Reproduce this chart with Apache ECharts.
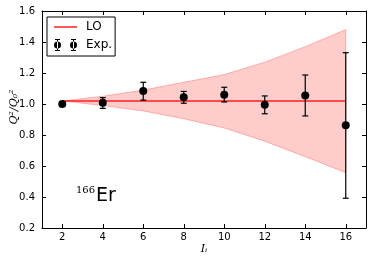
<!DOCTYPE html>
<html>
<head>
<meta charset="utf-8">
<script src="https://cdn.jsdelivr.net/npm/echarts@6/dist/echarts.min.js"></script>
<style>html,body{margin:0;padding:0;background:#fff}#c{width:374px;height:263px}</style>
</head>
<body>
<div id="c"></div>
<script>
// ---- data ----
const xTicks = [2, 4, 6, 8, 10, 12, 14, 16];
const yTicks = [0.2, 0.4, 0.6, 0.8, 1.0, 1.2, 1.4, 1.6];
const loI = [2, 16];
const loVal = [1.02, 1.02];
const bandI = [2, 4, 6, 8, 10, 12, 14, 16];
const bandUpper = [1.02, 1.05, 1.09, 1.14, 1.19, 1.27, 1.37, 1.48];
const bandLower = [1.02, 0.99, 0.955, 0.905, 0.845, 0.76, 0.66, 0.557];
const expI = [2, 4, 6, 8, 10, 12, 14, 16];
const expVal = [1.00, 1.008, 1.084, 1.043, 1.06, 0.995, 1.055, 0.863];
const expLow = [0.985, 0.972, 1.025, 1.005, 1.013, 0.937, 0.923, 0.392];
const expHigh = [1.015, 1.041, 1.14, 1.081, 1.108, 1.052, 1.187, 1.331];

const chart = echarts.init(document.getElementById('c'), null, {renderer: 'canvas'});
const sans = 'DejaVu Sans';
const serif = 'DejaVu Serif';

const expIcon = 'path://M0,6 A3.5,3.5 0 1,0 7,6 A3.5,3.5 0 1,0 0,6 Z M3,0 L4,0 L4,12 L3,12 Z M1,0 L6,0 L6,1 L1,1 Z M1,11 L6,11 L6,12 L1,12 Z ' +
  'M16,6 A3.5,3.5 0 1,0 23,6 A3.5,3.5 0 1,0 16,6 Z M19,0 L20,0 L20,12 L19,12 Z M17,0 L22,0 L22,1 L17,1 Z M17,11 L22,11 L22,12 L17,12 Z';

const axisCommon = {
  type: 'value',
  axisLine: {show: true, onZero: false, lineStyle: {color: '#000', width: 1}},
  splitLine: {show: false}
};

chart.setOption({
  animation: false,
  backgroundColor: '#fff',
  grid: {left: 42, right: 8, top: 11, bottom: 35},
  legend: {
    left: 47, top: 17, orient: 'vertical',
    padding: [4, 3, 5, 6],
    itemWidth: 23, itemHeight: 12, itemGap: 6,
    borderColor: '#000', borderWidth: 1, backgroundColor: '#fff',
    textStyle: {fontFamily: sans, fontSize: 12, color: '#000', padding: [0, 0, 0, 4]},
    data: [
      {name: 'LO', itemStyle: {opacity: 0}, lineStyle: {color: '#ff5a5a', width: 2}},
      {name: 'Exp.', icon: expIcon, itemStyle: {color: '#000', opacity: 1}}
    ]
  },
  xAxis: [
    Object.assign({}, axisCommon, {
      min: 1, max: 17, position: 'bottom',
      axisTick: {show: true, inside: true, length: 4, lineStyle: {color: '#000'}, customValues: xTicks},
      axisLabel: {show: true, margin: 4, fontFamily: sans, fontSize: 10, color: '#000', customValues: xTicks}
    }),
    Object.assign({}, axisCommon, {
      min: 1, max: 17, position: 'top',
      axisTick: {show: true, inside: true, length: 4, lineStyle: {color: '#000'}, customValues: xTicks},
      axisLabel: {show: false}
    })
  ],
  yAxis: [
    Object.assign({}, axisCommon, {
      min: 0.2, max: 1.6, interval: 0.2, position: 'left',
      axisTick: {show: true, inside: true, length: 4, lineStyle: {color: '#000'}},
      axisLabel: {show: true, margin: 7, fontFamily: sans, fontSize: 10, color: '#000',
        formatter: v => v.toFixed(1)}
    }),
    Object.assign({}, axisCommon, {
      min: 0.2, max: 1.6, interval: 0.2, position: 'right',
      axisTick: {show: true, inside: true, length: 4, lineStyle: {color: '#000'}},
      axisLabel: {show: false}
    })
  ],
  graphic: [
    {type: 'text', x: 14, y: 107, rotation: Math.PI / 2, originX: 0, originY: 0,
      style: {text: 'Q²/Q₀²', fontFamily: serif, fontStyle: 'italic', fontSize: 11, fill: '#000',
        textAlign: 'center', textVerticalAlign: 'middle'}},
    {type: 'text', x: 204, y: 249,
      style: {text: 'Iᵢ', fontFamily: serif, fontStyle: 'italic', fontSize: 11, fill: '#000',
        textAlign: 'center', textVerticalAlign: 'middle'}},
    {type: 'text', x: 76, y: 190.5,
      style: {text: '166', fontFamily: serif, fontSize: 10, fill: '#000',
        textAlign: 'left', textVerticalAlign: 'middle'}},
    {type: 'text', x: 96, y: 196,
      style: {text: 'Er', fontFamily: sans, fontSize: 19, fill: '#000',
        textAlign: 'left', textVerticalAlign: 'middle'}}
  ],
  series: [
    {
      name: 'band', type: 'custom', z: 1, silent: true,
      data: [[bandI[0], bandUpper[0]]],
      renderItem: function (params, api) {
        const pts = [];
        for (let i = 0; i < bandI.length; i++) pts.push(api.coord([bandI[i], bandUpper[i]]));
        for (let i = bandI.length - 1; i >= 0; i--) pts.push(api.coord([bandI[i], bandLower[i]]));
        return {type: 'polygon', shape: {points: pts},
          style: {fill: 'rgba(255,0,0,0.2)', stroke: 'rgba(255,0,0,0.25)', lineWidth: 1}};
      }
    },
    {
      name: 'LO', type: 'line', z: 3, symbol: 'none', showSymbol: false,
      data: loI.map((x, i) => [x, loVal[i]]),
      lineStyle: {color: '#ff2020', width: 1.5},
      itemStyle: {color: '#ff5050'}
    },
    {
      name: 'errbars', type: 'custom', z: 4, silent: true,
      data: expI.map((x, i) => [x, expLow[i], expHigh[i]]),
      renderItem: function (params, api) {
        const x = api.value(0);
        const lo = api.coord([x, api.value(1)]);
        const hi = api.coord([x, api.value(2)]);
        const cap = 3;
        const st = {stroke: '#000', lineWidth: 1.2};
        return {type: 'group', children: [
          {type: 'line', shape: {x1: lo[0], y1: lo[1], x2: hi[0], y2: hi[1]}, style: st},
          {type: 'line', shape: {x1: lo[0] - cap, y1: lo[1], x2: lo[0] + cap, y2: lo[1]}, style: st},
          {type: 'line', shape: {x1: hi[0] - cap, y1: hi[1], x2: hi[0] + cap, y2: hi[1]}, style: st}
        ]};
      }
    },
    {
      name: 'Exp.', type: 'scatter', z: 5, symbol: 'circle', symbolSize: 8,
      data: expI.map((x, i) => [x, expVal[i]]),
      itemStyle: {color: '#000', opacity: 1}
    }
  ]
});
</script>
</body>
</html>
